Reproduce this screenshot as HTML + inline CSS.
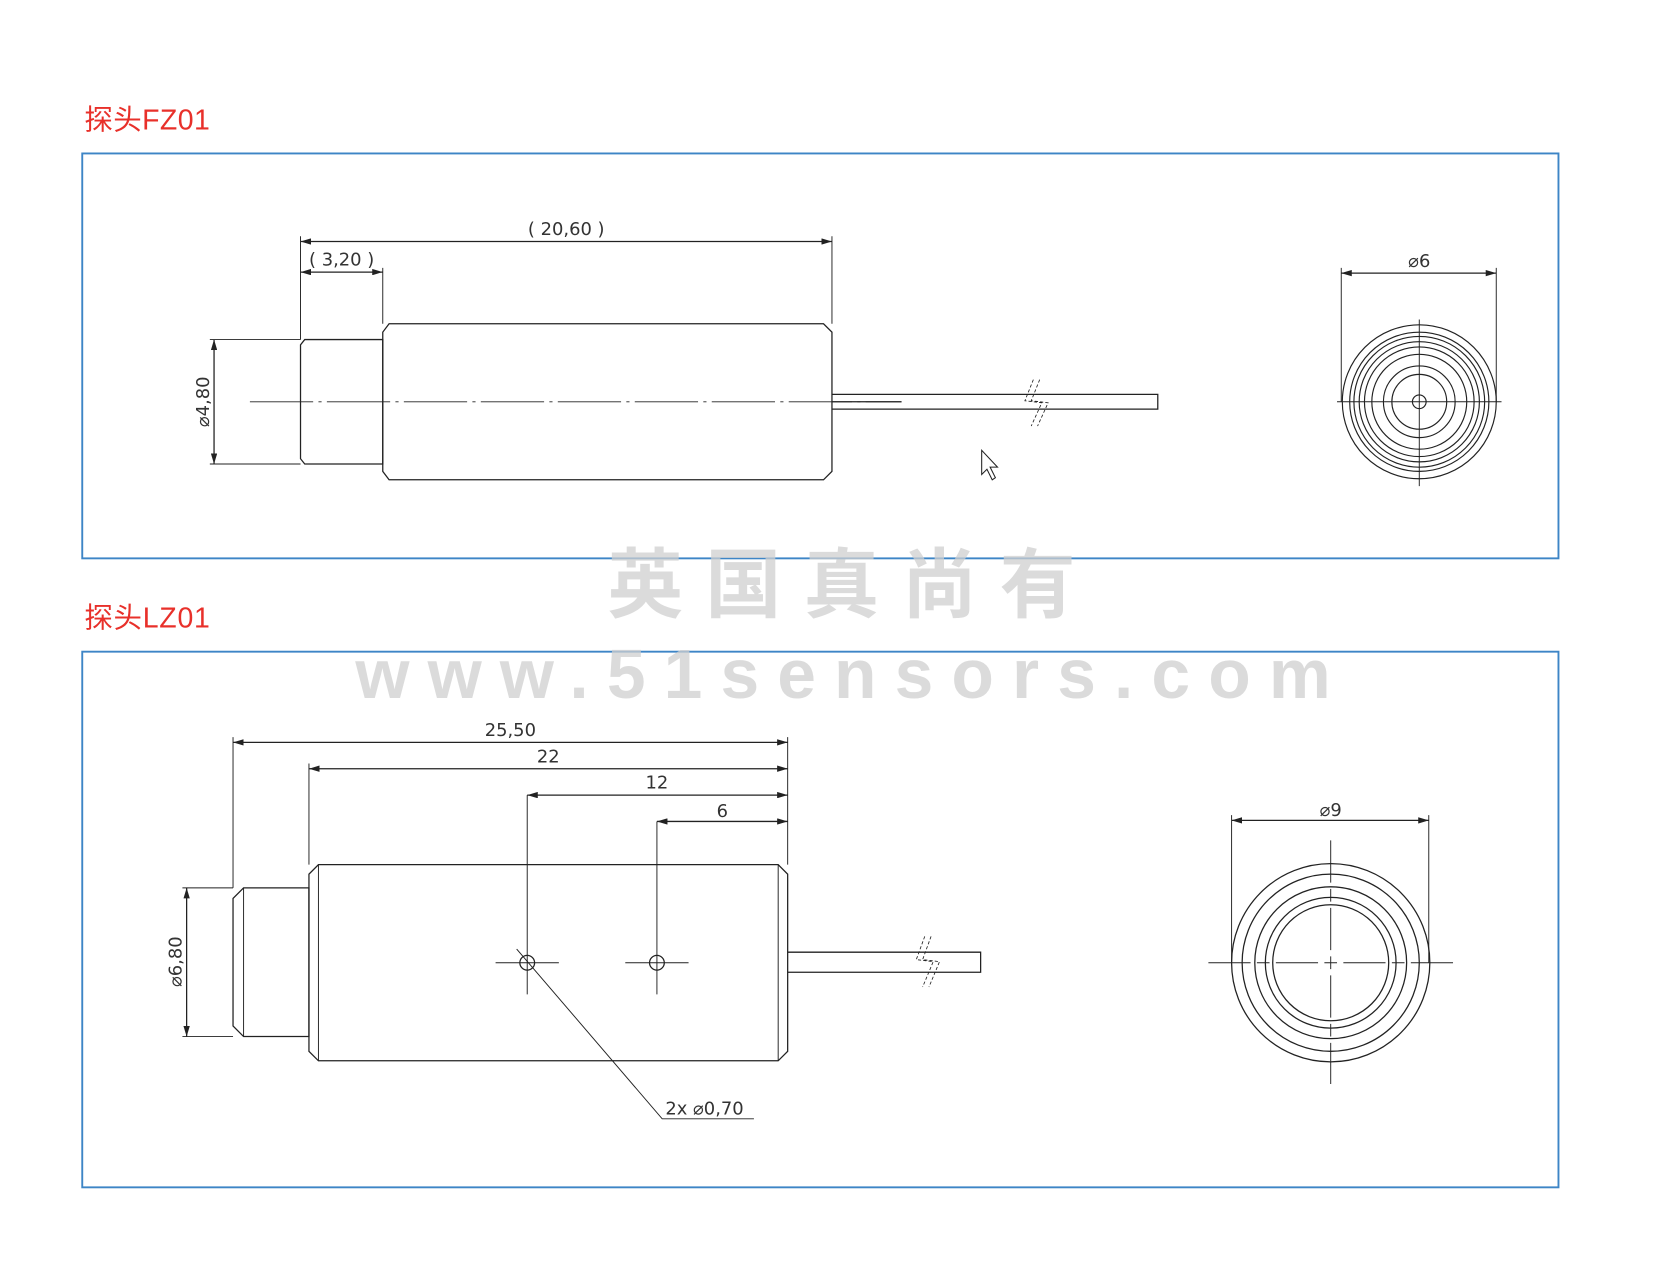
<!DOCTYPE html>
<html><head><meta charset="utf-8"><style>
html,body{margin:0;padding:0;background:#fff;}
svg{display:block;}
</style></head><body>
<svg width="1654" height="1281" viewBox="0 0 1568.6 1214.8" xmlns="http://www.w3.org/2000/svg">
<defs>
<marker id="a" viewBox="0 0 10 6" refX="10" refY="3" markerWidth="10" markerHeight="6" orient="auto-start-reverse" markerUnits="userSpaceOnUse"><path d="M0,0 L10,3 L0,6z" fill="#222"/></marker>
</defs>
<g font-family="Liberation Sans, Noto Sans CJK SC, sans-serif">
<text x="80" y="123" font-size="27" fill="#e8302a" textLength="119">探头FZ01</text>
<text x="80" y="595" font-size="27" fill="#e8302a" textLength="119">探头LZ01</text>
</g>
<rect x="78" y="145.5" width="1400" height="384" fill="none" stroke="#3d85c6" stroke-width="1.8"/>
<rect x="78" y="618" width="1400" height="508" fill="none" stroke="#3d85c6" stroke-width="1.8"/>

<g stroke="#222" stroke-width="1.2" fill="none">
<path d="M289,322 H363 V440 H289 L285,435 V327 Z"/>
<path d="M369,307 H781 L789,315 V447 L781,455 H369 L363,447 V315 Z"/>
<path d="M789,374 H1098 V388 H789"/>
<path d="M789,381 H855"/>
<path d="M237,381 H855" stroke-width="0.8" stroke-dasharray="60,5,3,5"/>
<path d="M980,360 L972,380 L988,382 L978,404 M986,360 L978,380 L994,382 L984,404" stroke-width="0.8" stroke-dasharray="3,2"/>
<path d="M285,229 H789" marker-start="url(#a)" marker-end="url(#a)"/>
<path d="M285,258 H363" marker-start="url(#a)" marker-end="url(#a)"/>
<path d="M285,224 V322 M789,224 V307 M363,254 V307" stroke-width="0.9"/>
<path d="M203,322 V440" marker-start="url(#a)" marker-end="url(#a)"/>
<path d="M199,322 H285 M199,440 H285" stroke-width="0.9"/>
<g stroke-width="1.1">
<circle cx="1346" cy="381" r="73"/><circle cx="1346" cy="381" r="66"/><circle cx="1346" cy="381" r="62"/>
<circle cx="1346" cy="381" r="57"/><circle cx="1346" cy="381" r="52"/><circle cx="1346" cy="381" r="45"/>
<circle cx="1346" cy="381" r="34"/><circle cx="1346" cy="381" r="26"/><circle cx="1346" cy="381" r="6.5"/>
</g>
<path d="M1268,381 H1424 M1346,303 V461" stroke-width="0.9"/>
<path d="M1272,259 H1419" marker-start="url(#a)" marker-end="url(#a)"/>
<path d="M1272,254 V381 M1419,254 V381" stroke-width="0.9"/>
<path d="M931,427 V450 L936,445 L941,455 L944,453 L939,443 L946,443 Z" stroke-width="1" fill="#fff"/>

<path d="M231,842 H293 V983 H231 L221,973 V852 Z"/>
<path d="M231,842 V983" stroke-width="0.9"/>
<path d="M302,820 H738 L747,829 V997 L738,1006 H302 L293,997 V829 Z"/>
<path d="M302,820 V1006 M738,820 V1006" stroke-width="0.9"/>
<path d="M747,903 H930 V922 H747"/>
<path d="M877,888 L869,910 L885,912 L875,936 M883,888 L875,910 L891,912 L881,936" stroke-width="0.8" stroke-dasharray="3,2"/>
<circle cx="500" cy="913" r="7"/><circle cx="623" cy="913" r="7"/>
<path d="M470,913 H530 M500,754 V943 M593,913 H653 M623,779 V943" stroke-width="0.9"/>
<path d="M490,900 L628,1061 H715" stroke-width="0.9"/>
<path d="M221,704 H747" marker-start="url(#a)" marker-end="url(#a)"/>
<path d="M293,729 H747" marker-start="url(#a)" marker-end="url(#a)"/>
<path d="M500,754 H747" marker-start="url(#a)" marker-end="url(#a)"/>
<path d="M623,779 H747" marker-start="url(#a)" marker-end="url(#a)"/>
<path d="M221,699 V842 M293,724 V820 M747,699 V820" stroke-width="0.9"/>
<path d="M177,842 V983" marker-start="url(#a)" marker-end="url(#a)"/>
<path d="M173,842 H221 M173,983 H221" stroke-width="0.9"/>
<circle cx="1262" cy="913" r="94"/><circle cx="1262" cy="913" r="84"/><circle cx="1262" cy="913" r="72"/>
<circle cx="1262" cy="913" r="62"/><circle cx="1262" cy="913" r="55"/>
<path d="M1146,913 H1378 M1262,797 V1028" stroke-width="0.9" stroke-dasharray="40,6,12,6"/>
<path d="M1168,778 H1355" marker-start="url(#a)" marker-end="url(#a)"/>
<path d="M1168,773 V913 M1355,773 V913" stroke-width="0.9"/>
</g>

<g font-family="DejaVu Sans, Liberation Sans, sans-serif" font-size="17" fill="#333">
<text x="537" y="223" text-anchor="middle">( 20,60 )</text>
<text x="324" y="252" text-anchor="middle">( 3,20 )</text>
<text x="198" y="381" text-anchor="middle" transform="rotate(-90 198 381)">⌀4,80</text>
<text x="1346" y="253" text-anchor="middle">⌀6</text>
<text x="484" y="698" text-anchor="middle">25,50</text>
<text x="520" y="723" text-anchor="middle">22</text>
<text x="623" y="748" text-anchor="middle">12</text>
<text x="685" y="775" text-anchor="middle">6</text>
<text x="172" y="912" text-anchor="middle" transform="rotate(-90 172 912)">⌀6,80</text>
<text x="1262" y="774" text-anchor="middle">⌀9</text>
<text x="631" y="1057">2x  ⌀0,70</text>
</g>

<g fill="#cfcfcf" fill-opacity="0.75" font-weight="bold" font-family="Liberation Sans, Noto Sans CJK SC, sans-serif">
<text x="576" y="580" font-size="72" textLength="444" lengthAdjust="spacing">英国真尚有</text>
<text x="337" y="662" font-size="66" textLength="925" lengthAdjust="spacing">www.51sensors.com</text>
</g>
</svg>
</body></html>
